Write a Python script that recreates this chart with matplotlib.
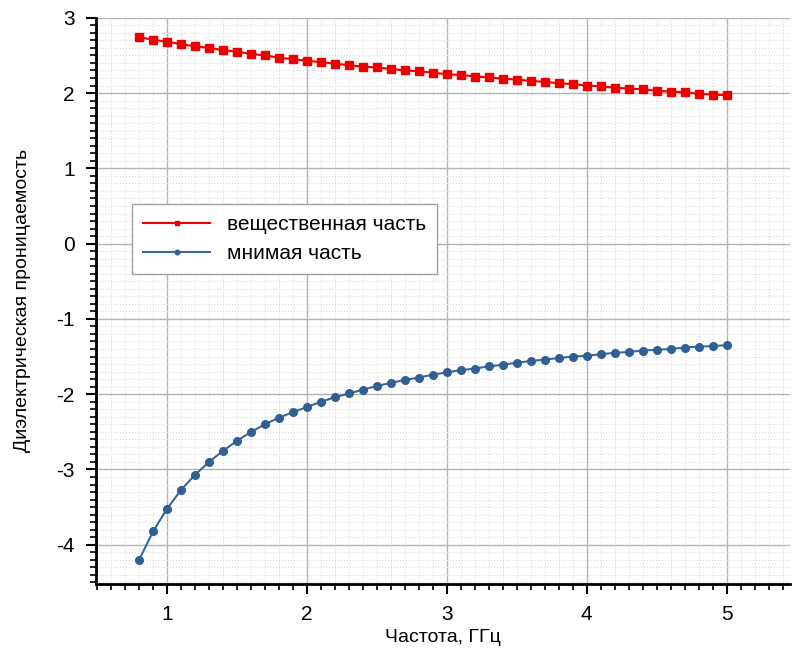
import matplotlib
matplotlib.use("Agg")
import matplotlib.pyplot as plt
from matplotlib.ticker import MultipleLocator

plt.rcParams['font.family'] = ['Liberation Sans', 'DejaVu Sans']
plt.rcParams['axes.unicode_minus'] = False

# frequency, GHz
freq = [0.8, 0.9, 1.0, 1.1, 1.2, 1.3, 1.4, 1.5, 1.6, 1.7, 1.8, 1.9,
        2.0, 2.1, 2.2, 2.3, 2.4, 2.5, 2.6, 2.7, 2.8, 2.9,
        3.0, 3.1, 3.2, 3.3, 3.4, 3.5, 3.6, 3.7, 3.8, 3.9,
        4.0, 4.1, 4.2, 4.3, 4.4, 4.5, 4.6, 4.7, 4.8, 4.9, 5.0]

# real part
eps_real = [2.74, 2.71, 2.68, 2.65, 2.62, 2.60, 2.57, 2.55, 2.52, 2.50, 2.47, 2.45,
            2.43, 2.41, 2.39, 2.37, 2.35, 2.34, 2.32, 2.30, 2.29, 2.27,
            2.25, 2.24, 2.22, 2.21, 2.19, 2.18, 2.16, 2.15, 2.13, 2.12,
            2.10, 2.09, 2.07, 2.06, 2.05, 2.03, 2.02, 2.01, 1.99, 1.98, 1.97]

# imaginary part
eps_imag = [-4.20, -3.82, -3.52, -3.27, -3.07, -2.90, -2.75, -2.62, -2.50, -2.40, -2.31, -2.24,
            -2.17, -2.10, -2.04, -1.99, -1.94, -1.89, -1.85, -1.81, -1.78, -1.74,
            -1.71, -1.68, -1.66, -1.63, -1.61, -1.58, -1.56, -1.54, -1.52, -1.50,
            -1.49, -1.47, -1.45, -1.44, -1.42, -1.41, -1.40, -1.38, -1.37, -1.36, -1.35]

fig = plt.figure(figsize=(7.92, 6.59), dpi=100)
ax = fig.add_axes([0.121, 0.114, 0.876, 0.859])

ax.plot(freq, eps_real, color='#ee0000', marker='s', markersize=6, linewidth=1.5,
        label='вещественная часть', zorder=3)
ax.plot(freq, eps_imag, color='#3c6896', marker='o', markersize=5.5, linewidth=1.5,
        markerfacecolor='#2f5f95', markeredgecolor='#2f5f95',
        label='мнимая часть', zorder=3)

ax.set_xlim(0.49, 5.45)
ax.set_ylim(-4.52, 3.0)
ax.xaxis.set_major_locator(MultipleLocator(1))
ax.xaxis.set_minor_locator(MultipleLocator(0.1))
ax.yaxis.set_major_locator(MultipleLocator(1))
ax.yaxis.set_minor_locator(MultipleLocator(0.1))

ax.grid(True, which='major', color='#b4b4b4', linewidth=1.0, zorder=0)
ax.grid(True, which='minor', color='#dcdcdc', linewidth=0.8, linestyle=':', zorder=0)

ax.spines['top'].set_visible(False)
ax.spines['right'].set_visible(False)
ax.spines['left'].set_linewidth(2)
ax.spines['bottom'].set_linewidth(2)
ax.tick_params(which='major', direction='out', length=7, width=1.5, labelsize=15, pad=8)
ax.tick_params(which='minor', direction='out', length=4, width=1.2)

ax.set_xlabel('Частота, ГГц', fontsize=14, labelpad=4)
ax.set_ylabel('Диэлектрическая проницаемость', fontsize=14, labelpad=18)

leg = ax.legend(loc='upper left', bbox_to_anchor=(0.052, 0.671), fontsize=15,
                fancybox=False, edgecolor='#a0a0a0', framealpha=1,
                markerscale=0.6, handlelength=3.2, borderpad=0.55,
                borderaxespad=0, labelspacing=0.45)
leg.get_frame().set_linewidth(1.0)

plt.savefig("out.png", dpi=100)
